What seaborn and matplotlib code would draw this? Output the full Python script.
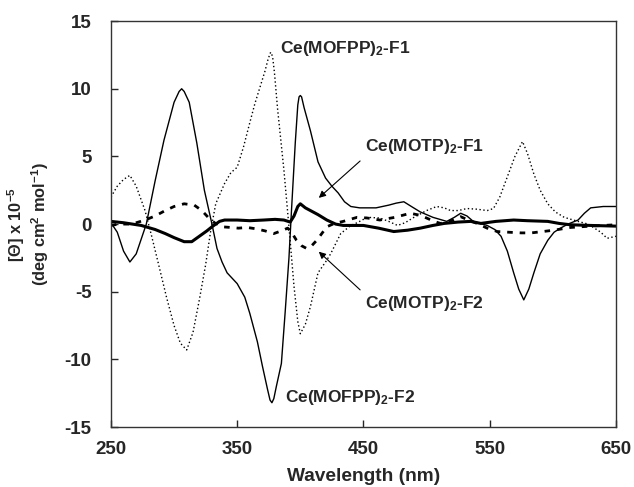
import matplotlib
matplotlib.use("Agg")
import matplotlib.pyplot as plt
import seaborn as sns

# Ce(MOFPP)2-F2 (thin solid)
wl_mofpp_f2 = [250, 255, 260, 265, 270, 278, 285, 292, 300, 304, 306, 308, 312, 318, 324, 330, 334,
               338, 342, 350, 356, 360, 366, 370, 374, 376, 377.5, 379, 381, 385, 388, 391, 393, 396,
               398, 399, 400, 401, 403, 408, 414, 420, 425, 430, 435, 440, 447, 460, 470, 476, 482,
               488, 495, 505, 516, 522, 527, 532, 537, 548, 554, 559, 564, 569, 573, 577,
               581, 585, 590, 596, 601, 606, 612, 620, 625, 630, 640, 650]
cd_mofpp_f2 = [0.1, -0.6, -2.0, -2.8, -2.2, 0.0, 3.2, 6.2, 9.0, 9.8, 10.0, 9.8, 9.0, 6.0, 2.5, 0.0, -1.8,
               -2.8, -3.6, -4.4, -5.4, -6.6, -8.7, -10.5, -12.2, -13.0, -13.2, -12.9, -12.0, -10.3, -6.5, -2.5, 1.0, 6.0,
               8.8, 9.4, 9.5, 9.4, 8.6, 6.9, 4.6, 3.4, 2.8, 2.3, 1.65, 1.3, 1.2, 1.2, 1.4, 1.55, 1.65,
               1.3, 0.9, 0.5, 0.2, 0.5, 0.8, 0.6, 0.2, -0.1, -0.4, -0.9, -2.0, -3.6, -4.8, -5.6,
               -4.8, -3.6, -2.2, -1.2, -0.6, -0.3, 0.0, 0.3, 0.8, 1.2, 1.3, 1.3]

# Ce(MOFPP)2-F1 (dotted)
wl_mofpp_f1 = [250, 255, 260, 265, 270, 277, 282, 287, 294, 300, 305, 310, 315, 320, 325,
               329, 333, 340, 345, 350, 355, 360, 364, 368, 372, 374.5, 376.5, 378, 379.5, 382, 387, 391,
               395, 398, 400, 404, 408, 414, 420, 424, 432, 440, 445, 453, 463, 470, 477,
               483, 490, 500, 508, 514, 519, 525, 532, 540, 548, 553, 558, 564, 570, 576,
               580, 585, 590, 596, 602, 609, 620, 628, 633, 638, 643, 650]
cd_mofpp_f1 = [2.0, 2.8, 3.3, 3.6, 2.8, 1.0, -0.8, -2.7, -5.4, -7.5, -8.8, -9.3, -8.0, -5.6, -3.0,
               -0.5, 1.5, 3.0, 3.8, 4.2, 5.7, 7.5, 8.9, 10.1, 11.3, 12.2, 12.7, 12.4, 11.2, 8.5, 4.0, -0.2,
               -4.6, -7.2, -8.1, -7.4, -6.1, -3.6, -2.8, -2.2, -0.7, -0.1, 0.1, 0.5, 0.45, 0.2, -0.1,
               0.1, 0.5, 1.0, 1.3, 1.2, 1.0, 1.0, 1.15, 1.1, 1.0, 1.15, 2.0, 3.5, 5.0, 6.1,
               5.2, 3.7, 2.5, 1.5, 0.9, 0.5, 0.2, 0.0, -0.3, -0.6, -1.05, -0.9]

# Ce(MOTP)2-F1 (thick solid)
wl_motp_f1 = [250, 260, 274, 285, 293, 300, 308, 314, 320, 326, 330, 336, 340, 350, 360,
              371, 380, 387, 392, 395, 398, 400, 404, 408, 414, 421, 428, 434, 450, 462,
              474, 485, 495, 505, 514, 525, 535, 543, 555, 569, 580, 596, 605, 614, 630, 650]
cd_motp_f1 = [0.2, 0.1, -0.1, -0.4, -0.7, -1.0, -1.3, -1.3, -0.9, -0.5, -0.2, 0.2, 0.3, 0.3, 0.25,
              0.3, 0.35, 0.3, 0.15, 0.6, 1.3, 1.5, 1.2, 1.0, 0.7, 0.3, 0.0, -0.1, -0.1, -0.3,
              -0.55, -0.45, -0.3, -0.1, 0.05, 0.15, 0.2, 0.05, 0.2, 0.3, 0.25, 0.2, 0.05, -0.05, -0.1, -0.15]

# Ce(MOTP)2-F2 (dashed)
wl_motp_f2 = [250, 256, 264, 270, 277, 285, 293, 300, 308, 316, 322, 327, 332, 338, 345,
              351, 358, 365, 372, 379, 385, 390, 393, 397, 401, 405, 409, 413, 417, 421,
              427, 434, 445, 453, 463, 475, 487, 495, 500, 506, 511, 516, 521, 527, 533,
              540, 548, 556, 565, 575, 583, 592, 601, 614, 630, 650]
cd_motp_f2 = [-0.1, 0.0, 0.0, 0.1, 0.3, 0.6, 1.0, 1.3, 1.5, 1.4, 1.0, 0.5, 0.1, -0.2, -0.25,
              -0.3, -0.25, -0.35, -0.5, -0.7, -0.5, -0.3, -0.6, -1.2, -1.6, -1.8, -1.6, -1.2, -0.7, -0.2,
              0.05, 0.2, 0.5, 0.45, 0.3, 0.5, 0.8, 0.65, 0.45, 0.2, 0.05, 0.15, 0.3, 0.55, 0.3,
              0.05, -0.3, -0.55, -0.6, -0.65, -0.65, -0.55, -0.45, -0.25, -0.15, -0.05]

x_ticks = [250, 350, 450, 550, 650]
y_ticks = [-15, -10, -5, 0, 5, 10, 15]

sns.set_style("ticks")
plt.rcParams["font.family"] = ["Liberation Sans", "DejaVu Sans"]
plt.rcParams["font.weight"] = "bold"
plt.rcParams["axes.unicode_minus"] = False
plt.rcParams["mathtext.fontset"] = "custom"
plt.rcParams["mathtext.default"] = "bf"
plt.rcParams["mathtext.bf"] = "Liberation Sans:bold"
plt.rcParams["mathtext.rm"] = "Liberation Sans:bold"
plt.rcParams["mathtext.it"] = "Liberation Sans:italic"

fig = plt.figure(figsize=(6.34, 4.87), dpi=100)
ax = fig.add_axes([0.175, 0.123, 0.7965, 0.8337])

sns.lineplot(x=wl_mofpp_f2, y=cd_mofpp_f2, ax=ax, color="black", linewidth=1.0)
sns.lineplot(x=wl_mofpp_f1, y=cd_mofpp_f1, ax=ax, color="black", linewidth=1.0,
             linestyle=(0, (1, 1.8)))
sns.lineplot(x=wl_motp_f1, y=cd_motp_f1, ax=ax, color="black", linewidth=2.2)
sns.lineplot(x=wl_motp_f2, y=cd_motp_f2, ax=ax, color="black", linewidth=2.0,
             linestyle=(0, (2, 2.5)))

ax.set_xlim(250, 650)
ax.set_ylim(-15, 15)
ax.set_xticks(x_ticks)
ax.set_yticks(y_ticks)
ax.tick_params(axis="x", direction="in", length=5, width=1, pad=10, labelsize=13.5)
ax.tick_params(axis="y", direction="in", length=5, width=1, pad=14, labelsize=13.5)
for s in ax.spines.values():
    s.set_color("#333333")
    s.set_linewidth(1.0)

ax.set_xlabel("Wavelength (nm)", fontsize=13.8, fontweight="bold", labelpad=7)
ax.set_ylabel("[$\\mathit{\\Theta}$] x 10$^{-5}$\n(deg cm$^{2}$ mol$^{-1}$)",
              fontsize=11.8, fontweight="bold", labelpad=10, linespacing=1.1)

ax.text(384, 13.0, "Ce(MOFPP)$_2$-F1", fontsize=12.5, fontweight="bold", va="center")
ax.text(388, -12.8, "Ce(MOFPP)$_2$-F2", fontsize=12.5, fontweight="bold", va="center")
ax.text(451, 5.7, "Ce(MOTP)$_2$-F1", fontsize=12.5, fontweight="bold", va="center")
ax.text(451, -5.85, "Ce(MOTP)$_2$-F2", fontsize=12.5, fontweight="bold", va="center")

arrow = dict(arrowstyle="-|>", color="black", lw=0.8, mutation_scale=10)
ax.annotate("", xy=(413, 1.8), xytext=(449, 4.8), arrowprops=arrow)
ax.annotate("", xy=(413, -1.9), xytext=(449, -5.0), arrowprops=arrow)

fig.savefig("out.png", dpi=100)
